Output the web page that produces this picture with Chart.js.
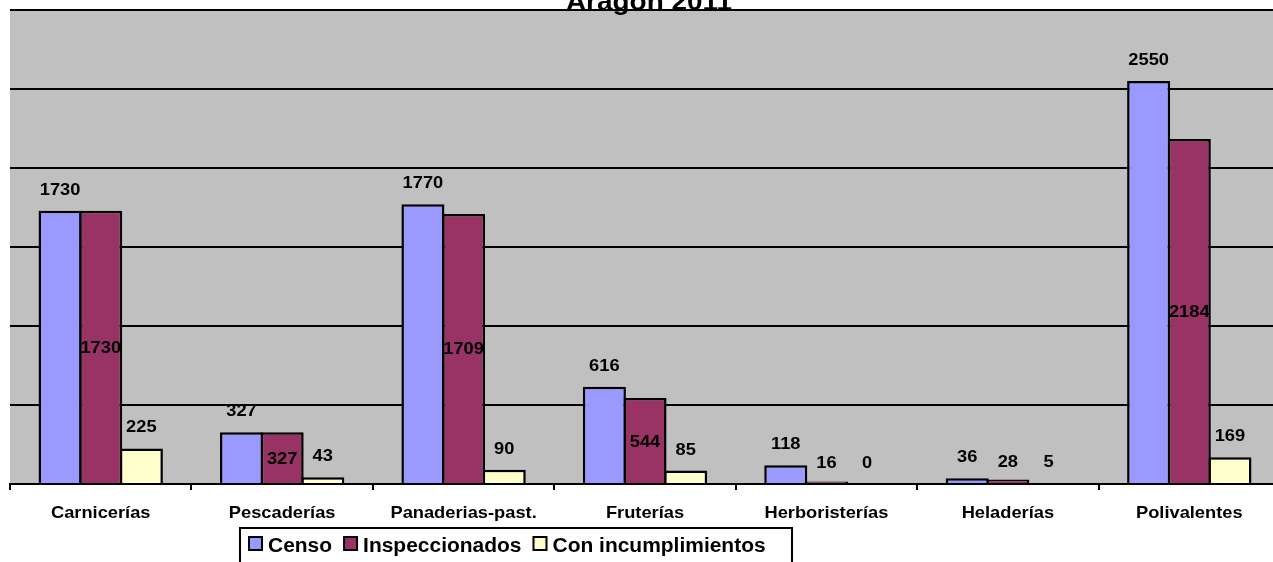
<!DOCTYPE html>
<html>
<head>
<meta charset="utf-8">
<script src="https://cdn.jsdelivr.net/npm/chart.js@4.4.1/dist/chart.umd.min.js"></script>
<style>
  html, body { margin: 0; padding: 0; background: #ffffff; overflow: hidden; width: 1273px; height: 562px; }
  canvas { display: block; position: absolute; left: 0; top: 0; }
</style>
</head>
<body>
<canvas id="c" width="1290" height="562"></canvas>
<script>
// ---- data ----
const chartTitle = 'Aragón 2011';
const categories = ['Carnicerías', 'Pescaderías', 'Panaderias-past.', 'Fruterías', 'Herboristerías', 'Heladerías', 'Polivalentes'];
const seriesNames = ['Censo', 'Inspeccionados', 'Con incumplimientos'];
const censo = [1730, 327, 1770, 616, 118, 36, 2550];
const inspeccionados = [1730, 327, 1709, 544, 16, 28, 2184];
const incumplimientos = [225, 43, 90, 85, 0, 5, 169];
const yMin = 0, yMax = 3000, yStep = 500;

// ---- styles ----
const seriesColors = ['#9999FF', '#993366', '#FFFFCC'];
const FONT = '"Liberation Sans", Arial, sans-serif';
const SX = 1.075; // horizontal text stretch of the reference

function stretchedText(ctx, text, x, y, font, align) {
  ctx.save();
  ctx.font = font;
  ctx.fillStyle = '#000';
  ctx.textBaseline = 'alphabetic';
  ctx.textAlign = align;
  ctx.translate(x, y);
  ctx.scale(SX, 1);
  ctx.fillText(text, 0, 0);
  ctx.restore();
}

const plotBg = {
  id: 'plotBg',
  beforeDraw(chart) {
    const { ctx, chartArea: a } = chart;
    ctx.save();
    ctx.fillStyle = '#C0C0C0';
    ctx.fillRect(a.left, a.top, a.right - a.left, a.bottom - a.top);
    ctx.restore();
  }
};

const valueLabels = {
  id: 'valueLabels',
  afterDatasetsDraw(chart) {
    const ctx = chart.ctx;
    const font = 'bold 17px ' + FONT;
    chart.data.datasets.forEach((ds, di) => {
      const meta = chart.getDatasetMeta(di);
      meta.data.forEach((bar, i) => {
        const v = ds.data[i];
        const top = Math.min(bar.y, bar.base);
        const h = Math.abs(bar.base - bar.y);
        let y;
        if (di === 1) {
          y = h > 40 ? (bar.y + bar.base) / 2 + 6 : top - 13;
        } else {
          y = top - 16;
        }
        stretchedText(ctx, String(v), bar.x, y, font, 'center');
      });
    });
  }
};

const customText = {
  id: 'customText',
  afterDraw(chart) {
    const ctx = chart.ctx;
    const xs = chart.scales.x;
    // category labels
    categories.forEach((c, i) => {
      stretchedText(ctx, c, xs.getPixelForValue(i), 518, 'bold 17px ' + FONT, 'center');
    });
    // title (top cut off as in the reference)
    stretchedText(ctx, chartTitle, 649, 9.5, 'bold 26px ' + FONT, 'center');
    // legend
    const lf = 'bold 19.5px ' + FONT;
    const boxL = 240, boxT = 528, boxR = 792, boxB = 575;
    ctx.save();
    ctx.fillStyle = '#fff';
    ctx.fillRect(boxL, boxT, boxR - boxL, boxB - boxT);
    ctx.strokeStyle = '#000';
    ctx.lineWidth = 2;
    ctx.strokeRect(boxL, boxT, boxR - boxL, boxB - boxT);
    ctx.font = lf;
    let x = 249;
    chart.data.datasets.forEach((ds) => {
      ctx.fillStyle = ds.backgroundColor;
      ctx.fillRect(x, 537, 13, 13);
      ctx.strokeStyle = '#000';
      ctx.lineWidth = 2;
      ctx.strokeRect(x, 537, 13, 13);
      const tx = x + 19;
      stretchedText(ctx, ds.label, tx, 551.5, lf, 'left');
      ctx.font = lf;
      x = tx + ctx.measureText(ds.label).width * SX + 12;
    });
    ctx.restore();
  }
};

const seriesData = [censo, inspeccionados, incumplimientos];
new Chart(document.getElementById('c'), {
  type: 'bar',
  data: {
    labels: categories,
    datasets: seriesNames.map((n, k) => ({
      label: n,
      data: seriesData[k],
      backgroundColor: seriesColors[k],
      borderColor: '#000',
      borderWidth: 2.5,
      categoryPercentage: 0.672,
      barPercentage: 1.06
    }))
  },
  options: {
    responsive: false,
    animation: false,
    layout: { padding: { left: 10, top: 10, right: 10, bottom: 0 } },
    plugins: { legend: { display: false }, title: { display: false }, tooltip: { enabled: false } },
    scales: {
      x: {
        ticks: { display: false },
        grid: { display: true, drawOnChartArea: false, drawTicks: true, tickLength: 6, color: '#000', lineWidth: 2, offset: true },
        border: { display: true, color: '#000', width: 2 },
        afterFit(s) { s.height = 78; }
      },
      y: {
        min: yMin, max: yMax,
        ticks: { display: false, stepSize: yStep },
        grid: { color: '#000', lineWidth: 2, drawTicks: false },
        border: { display: false },
        afterFit(s) { s.width = 0; }
      }
    }
  },
  plugins: [plotBg, valueLabels, customText]
});
</script>
</body>
</html>
